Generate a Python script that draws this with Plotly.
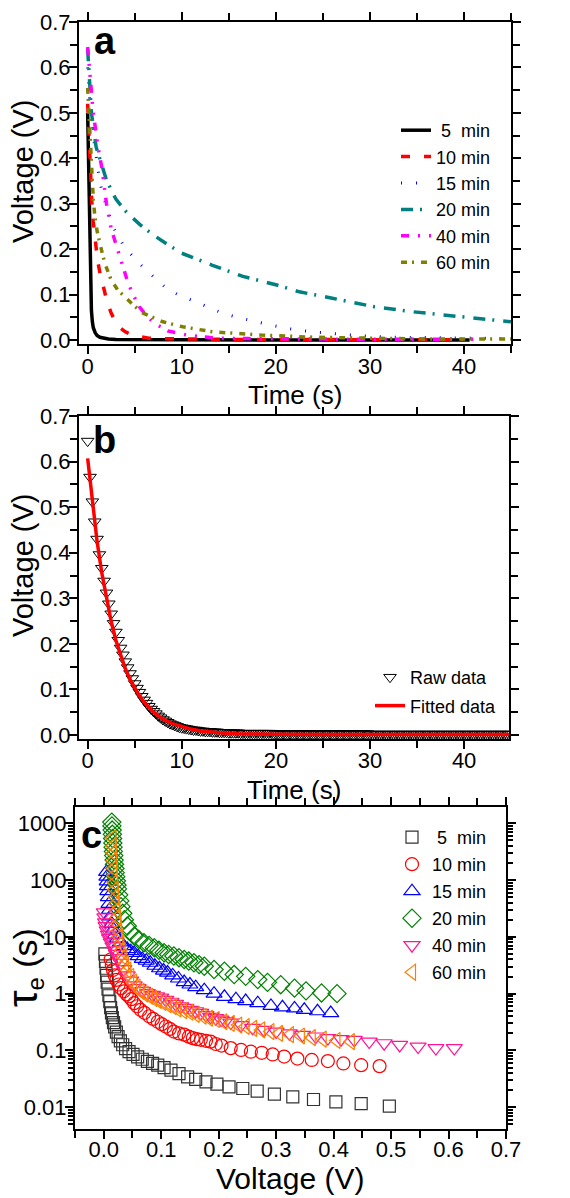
import plotly.graph_objects as go

W, H = 570, 1198
FONT = "Liberation Sans, Arial, sans-serif"

# ---------------- Panel a: voltage decay curves ----------------
t5 = [0, 0.05, 0.1, 0.15, 0.2, 0.25, 0.3, 0.4, 0.5, 0.6, 0.8, 1.0, 1.3, 1.7, 2.2, 3, 5, 10, 20, 30, 40.6]
v5 = [0.50, 0.43, 0.36, 0.29, 0.22, 0.16, 0.11, 0.065, 0.04, 0.027, 0.016, 0.01, 0.006, 0.004, 0.002, 0.001, 0.0005, 0.0003, 0.0002, 0.0001, 0.0001]

t10 = [0, 0.1, 0.2, 0.3, 0.45, 0.6, 0.8, 1.05, 1.3, 1.6, 2.0, 2.5, 3.0, 3.5, 4.0, 4.7, 5.5, 6.5, 8, 10, 13, 17, 22, 28, 34, 40]
v10 = [0.52, 0.46, 0.40, 0.35, 0.30, 0.26, 0.22, 0.176, 0.148, 0.121, 0.09, 0.059, 0.039, 0.026, 0.018, 0.011, 0.007, 0.004, 0.003, 0.002, 0.0015, 0.001, 0.001, 0.0008, 0.0006, 0.0005]

t15 = [0, 0.2, 0.55, 0.9, 1.3, 2.0, 2.8, 3.9, 5.3, 6.8, 8.2, 9.5, 11, 12.5, 14, 15.5, 17, 19, 21, 23, 25.4, 28, 30, 33, 36, 40, 45]
v15 = [0.60, 0.53, 0.456, 0.40, 0.346, 0.293, 0.245, 0.205, 0.172, 0.143, 0.117, 0.101, 0.088, 0.074, 0.062, 0.052, 0.044, 0.035, 0.026, 0.020, 0.015, 0.011, 0.008, 0.006, 0.005, 0.004, 0.003]

t20 = [0, 0.2, 0.4, 0.9, 2.0, 3.0, 4.1, 5.5, 7.0, 8.5, 10, 13.2, 16.5, 20.1, 22.5, 26, 30.5, 34.6, 38.2, 41.4, 45]
v20 = [0.64, 0.58, 0.50, 0.425, 0.352, 0.31, 0.282, 0.255, 0.231, 0.21, 0.191, 0.165, 0.14, 0.121, 0.106, 0.092, 0.073, 0.062, 0.055, 0.048, 0.040]

t40 = [0, 0.1, 0.3, 0.55, 0.8, 1.1, 1.5, 2.0, 2.5, 3.1, 3.7, 4.3, 4.9, 5.5, 6.3, 7.1, 8.5, 10.5, 12, 14, 17, 20, 25, 30, 35, 41]
v40 = [0.645, 0.62, 0.57, 0.51, 0.47, 0.425, 0.38, 0.30, 0.245, 0.205, 0.163, 0.125, 0.097, 0.073, 0.052, 0.037, 0.02, 0.011, 0.007, 0.004, 0.003, 0.002, 0.002, 0.0015, 0.0015, 0.0015]

t60 = [0, 0.1, 0.2, 0.3, 0.45, 0.6, 0.75, 1.0, 1.3, 1.8, 2.5, 3.2, 4.1, 5.0, 5.9, 7.0, 8.0, 10.1, 13.3, 18.4, 24, 30, 37, 45]
v60 = [0.555, 0.51, 0.46, 0.41, 0.36, 0.31, 0.275, 0.24, 0.213, 0.17, 0.132, 0.11, 0.092, 0.074, 0.059, 0.048, 0.04, 0.029, 0.018, 0.011, 0.006, 0.004, 0.002, 0.002]

names_a = ["\u00a05\u00a0\u00a0min", "10 min", "15 min", "20 min", "40 min", "60 min"]

# ---------------- Panel b: raw vs fitted ----------------
raw_t = [0.0, 0.25, 0.5, 0.75, 1.0, 1.25, 1.5, 1.75, 2.0, 2.25, 2.5, 2.75, 3.0, 3.25, 3.5, 3.75,
         4.0, 4.25, 4.5, 4.75, 5.0, 5.25, 5.5, 5.75, 6.0, 6.25, 6.5, 6.75, 7.0, 7.25, 7.5, 7.75,
         8.0, 8.25, 8.5, 8.75, 9.0, 9.25, 9.5, 9.75, 10.0, 10.25, 10.5, 10.75, 11.0, 11.25, 11.5, 11.75,
         12.0, 12.25, 12.5, 12.75, 13.0, 13.25, 13.5, 13.75, 14.0, 14.25, 14.5, 14.75, 15.0, 15.25, 15.5, 15.75,
         16.0, 16.25, 16.5, 16.75, 17.0, 17.25, 17.5, 17.75, 18.0, 18.25, 18.5, 18.75, 19.0, 19.25, 19.5, 19.75,
         20.0, 20.25, 20.5, 20.75, 21.0, 21.25, 21.5, 21.75, 22.0, 22.25, 22.5, 22.75, 23.0, 23.25, 23.5, 23.75,
         24.0, 24.25, 24.5, 24.75, 25.0, 25.25, 25.5, 25.75, 26.0, 26.25, 26.5, 26.75, 27.0, 27.25, 27.5, 27.75,
         28.0, 28.25, 28.5, 28.75, 29.0, 29.25, 29.5, 29.75, 30.0, 30.25, 30.5, 30.75, 31.0, 31.25, 31.5, 31.75,
         32.0, 32.25, 32.5, 32.75, 33.0, 33.25, 33.5, 33.75, 34.0, 34.25, 34.5, 34.75, 35.0, 35.25, 35.5, 35.75,
         36.0, 36.25, 36.5, 36.75, 37.0, 37.25, 37.5, 37.75, 38.0, 38.25, 38.5, 38.75, 39.0, 39.25, 39.5, 39.75,
         40.0, 40.25, 40.5, 40.75, 41.0, 41.25, 41.5, 41.75, 42.0, 42.25, 42.5, 42.75, 43.0, 43.25, 43.5, 43.75,
         44.0, 44.25, 44.5, 44.75, 45.0]
raw_v = [0.645, 0.566, 0.512, 0.468, 0.430, 0.396, 0.366, 0.338, 0.312, 0.288, 0.266, 0.245, 0.226, 0.208, 0.191, 0.176,
         0.161, 0.148, 0.135, 0.124, 0.113, 0.103, 0.094, 0.085, 0.077, 0.070, 0.063, 0.057, 0.052, 0.047, 0.042, 0.038,
         0.034, 0.031, 0.028, 0.025, 0.023, 0.021, 0.019, 0.017, 0.016, 0.015, 0.014, 0.013, 0.012, 0.011, 0.011, 0.010,
         0.009, 0.009, 0.008, 0.008, 0.008, 0.007, 0.007, 0.007, 0.006, 0.006, 0.006, 0.006, 0.005, 0.005, 0.005, 0.005,
         0.005, 0.004, 0.004, 0.004, 0.004, 0.004, 0.004, 0.004, 0.004, 0.004, 0.004, 0.004, 0.004, 0.004, 0.004, 0.003,
         0.003, 0.003, 0.003, 0.003, 0.003, 0.003, 0.003, 0.003, 0.003, 0.003, 0.003, 0.003, 0.003, 0.003, 0.003, 0.003,
         0.003, 0.003, 0.003, 0.003, 0.003, 0.003, 0.003, 0.003, 0.003, 0.003, 0.003, 0.003, 0.003, 0.003, 0.003, 0.003,
         0.003, 0.003, 0.003, 0.003, 0.003, 0.003, 0.003, 0.003, 0.002, 0.002, 0.002, 0.002, 0.002, 0.002, 0.002, 0.002,
         0.002, 0.002, 0.002, 0.002, 0.002, 0.002, 0.002, 0.002, 0.002, 0.002, 0.002, 0.002, 0.002, 0.002, 0.002, 0.002,
         0.002, 0.002, 0.002, 0.002, 0.002, 0.002, 0.002, 0.002, 0.002, 0.002, 0.002, 0.002, 0.002, 0.002, 0.002, 0.002,
         0.002, 0.002, 0.002, 0.002, 0.002, 0.002, 0.002, 0.002, 0.002, 0.002, 0.002, 0.002, 0.002, 0.002, 0.002, 0.002,
         0.002, 0.002, 0.002, 0.002, 0.002]
fit_t = [0, 0.5, 1, 1.5, 2, 2.5, 3, 3.5, 4, 4.5, 5, 5.5, 6, 6.5, 7, 7.5, 8, 9, 10, 11, 12, 13, 14, 16, 18, 20, 25, 30, 35, 40, 45]
fit_v = [0.607, 0.508, 0.425, 0.356, 0.297, 0.249, 0.208, 0.174, 0.146, 0.122, 0.102, 0.086, 0.072, 0.060, 0.050, 0.042, 0.035,
         0.025, 0.018, 0.013, 0.009, 0.007, 0.005, 0.003, 0.002, 0.0015, 0.001, 0.001, 0.001, 0.001, 0.001]

# ---------------- Panel c: electron lifetime ----------------
c5_v = [0.002, 0.003, 0.004, 0.005, 0.006, 0.0075, 0.009, 0.0105, 0.012, 0.0135, 0.015, 0.017, 0.019, 0.022, 0.025, 0.029,
        0.033, 0.038, 0.044, 0.051, 0.059, 0.067, 0.076, 0.085, 0.094, 0.105, 0.117, 0.131, 0.146, 0.160, 0.178, 0.197,
        0.218, 0.242, 0.267, 0.297, 0.329, 0.365, 0.404, 0.448, 0.497]
c5_tau = [5.0, 3.7, 2.8, 2.1, 1.6, 1.2, 0.92, 0.72, 0.57, 0.46, 0.38, 0.31, 0.26, 0.21, 0.175, 0.148,
          0.126, 0.108, 0.095, 0.085, 0.077, 0.07, 0.064, 0.059, 0.055, 0.050, 0.045, 0.039, 0.0344, 0.031, 0.028, 0.0255,
          0.0229, 0.0214, 0.0192, 0.017, 0.0152, 0.0137, 0.0124, 0.0116, 0.0105]

c10_v = [0.012, 0.014, 0.016, 0.019, 0.022, 0.026, 0.030, 0.035, 0.040, 0.044, 0.048, 0.053, 0.058, 0.064, 0.071, 0.079,
         0.086, 0.094, 0.101, 0.108, 0.115, 0.122, 0.131, 0.140, 0.148, 0.155, 0.162, 0.169, 0.178, 0.186, 0.195, 0.205,
         0.221, 0.239, 0.256, 0.275, 0.294, 0.314, 0.337, 0.362, 0.390, 0.417, 0.448, 0.480]
c10_tau = [4.0, 3.2, 2.6, 2.1, 1.75, 1.45, 1.25, 1.1, 0.97, 0.9, 0.8, 0.68, 0.6, 0.52, 0.46, 0.40,
           0.36, 0.32, 0.29, 0.264, 0.24, 0.215, 0.2, 0.19, 0.175, 0.165, 0.158, 0.154, 0.148, 0.143, 0.13, 0.122,
           0.11, 0.102, 0.095, 0.091, 0.085, 0.078, 0.072, 0.068, 0.065, 0.059, 0.055, 0.053]

c15_v = [0.005, 0.0055, 0.006, 0.0065, 0.007, 0.008, 0.009, 0.010, 0.012, 0.014, 0.017, 0.020, 0.024, 0.029, 0.035, 0.041,
         0.047, 0.053, 0.060, 0.067, 0.074, 0.081, 0.089, 0.097, 0.104, 0.111, 0.120, 0.130, 0.140, 0.150, 0.160, 0.175,
         0.192, 0.210, 0.230, 0.247, 0.268, 0.291, 0.311, 0.332, 0.349, 0.372, 0.395]
c15_tau = [140, 115, 95, 78, 64, 50, 38, 30, 23, 17, 13.5, 11, 9.3, 8.0, 6.9, 6.1,
           5.6, 5.2, 4.6, 4.1, 3.8, 3.5, 3.1, 2.8, 2.55, 2.35, 2.1, 1.85, 1.6, 1.45, 1.3, 1.15,
           1.0, 0.88, 0.8, 0.74, 0.68, 0.61, 0.575, 0.55, 0.52, 0.49, 0.455]

c20_v = [0.014, 0.0143, 0.0146, 0.015, 0.0154, 0.0158, 0.0163, 0.0168, 0.0174, 0.018, 0.0187, 0.0195, 0.020, 0.021, 0.022, 0.023,
         0.024, 0.026, 0.028, 0.030, 0.033, 0.036, 0.041, 0.046, 0.053, 0.061, 0.070, 0.079, 0.088, 0.096, 0.105, 0.113,
         0.122, 0.131, 0.140, 0.148, 0.157, 0.166, 0.175, 0.192, 0.210, 0.227, 0.247, 0.268, 0.285, 0.308, 0.332, 0.352,
         0.379, 0.406]
c20_tau = [1050, 900, 760, 640, 540, 450, 380, 320, 270, 225, 190, 160, 135, 115, 97, 82,
           70, 55, 43, 34, 26, 20, 15.5, 12.5, 10.3, 9.0, 7.9, 7.1, 6.45, 5.8, 5.25, 4.9,
           4.6, 4.3, 4.0, 3.75, 3.5, 3.25, 3.04, 2.66, 2.48, 2.17, 2.02, 1.77, 1.58, 1.44, 1.25, 1.12,
           1.03, 1.0]

c40_v = [0.001, 0.002, 0.003, 0.004, 0.006, 0.008, 0.010, 0.013, 0.016, 0.019, 0.022, 0.026, 0.030, 0.035, 0.041, 0.047,
         0.053, 0.060, 0.068, 0.076, 0.085, 0.092, 0.099, 0.108, 0.117, 0.125, 0.134, 0.143, 0.152, 0.160, 0.169, 0.178,
         0.186, 0.195, 0.204, 0.212, 0.221, 0.239, 0.259, 0.279, 0.300, 0.323, 0.346, 0.369, 0.390, 0.413, 0.436, 0.462,
         0.488, 0.515, 0.547, 0.578, 0.610]
c40_tau = [27, 22, 18, 15.5, 13, 11, 9.5, 8, 6.8, 5.8, 5.0, 4.2, 3.5, 2.7, 2.1, 1.7,
           1.4, 1.25, 1.12, 1.02, 0.95, 0.9, 0.85, 0.78, 0.72, 0.66, 0.6, 0.56, 0.52, 0.49, 0.46, 0.42,
           0.39, 0.37, 0.35, 0.33, 0.31, 0.28, 0.25, 0.23, 0.215, 0.2, 0.188, 0.176, 0.165, 0.158, 0.154, 0.143,
           0.134, 0.125, 0.117, 0.11, 0.11]

c60_v = [0.015, 0.0155, 0.016, 0.0165, 0.017, 0.0175, 0.018, 0.019, 0.020, 0.021, 0.022, 0.023, 0.024, 0.025, 0.027, 0.029,
         0.031, 0.034, 0.037, 0.041, 0.046, 0.051, 0.057, 0.064, 0.071, 0.079, 0.086, 0.094, 0.102, 0.111, 0.120, 0.128,
         0.138, 0.149, 0.160, 0.172, 0.183, 0.195, 0.208, 0.221, 0.234, 0.247, 0.260, 0.274, 0.290, 0.305, 0.324, 0.343,
         0.362, 0.381, 0.405, 0.430]
c60_tau = [550, 400, 300, 220, 160, 120, 90, 68, 50, 38, 29, 22, 17, 13, 10, 7.6,
           5.8, 4.4, 3.4, 2.6, 2.0, 1.6, 1.3, 1.1, 0.98, 0.9, 0.82, 0.76, 0.7, 0.64, 0.59, 0.54,
           0.5, 0.47, 0.43, 0.4, 0.37, 0.35, 0.32, 0.3, 0.28, 0.264, 0.245, 0.23, 0.215, 0.2, 0.19, 0.18,
           0.168, 0.158, 0.15, 0.143]

names_c = ["\u00a05\u00a0\u00a0min", "10 min", "15 min", "20 min", "40 min", "60 min"]
y_tickvals_c = [0.01, 0.1, 1, 10, 100, 1000]
y_ticktext_c = ["0.01", "0.1", "1", "10", "100", "1000"]

fig = go.Figure()

# panel a traces
a_series = [(t5, v5, "#000000", "solid", 3.5),
            (t10, v10, "#FF0000", "9px,14px", 3.5),
            (t15, v15, "#0000FF", "1px,14px", 3),
            (t20, v20, "#008080", "12px,7px,2px,9px", 3.5),
            (t40, v40, "#FF00FF", "8px,9px,2px,9px,2px,8px", 3.5),
            (t60, v60, "#808000", "6px,5px,2px,7px", 3.5)]
for i, (tt, vv, col, dash, w) in enumerate(a_series):
    fig.add_trace(go.Scatter(x=tt, y=vv, mode="lines", name=names_a[i],
                             line=dict(color=col, dash=dash, width=w),
                             xaxis="x", yaxis="y", legend="legend", legendgroup="a%d" % i))

# panel b traces
fig.add_trace(go.Scatter(x=raw_t, y=raw_v, mode="markers", name="Raw data",
                         marker=dict(symbol="triangle-down-open", size=11, color="#000000", line=dict(width=1)),
                         xaxis="x2", yaxis="y2", legend="legend2", legendgroup="b0"))
fig.add_trace(go.Scatter(x=fit_t, y=fit_v, mode="lines", name="Fitted data",
                         line=dict(color="#FF0000", width=3.5),
                         xaxis="x2", yaxis="y2", legend="legend2", legendgroup="b1"))

# panel c traces
c_series = [(c5_v, c5_tau, "#333333", "square-open", 12),
            (c10_v, c10_tau, "#FF0000", "circle-open", 13),
            (c15_v, c15_tau, "#0000FF", "triangle-up-open", 14),
            (c20_v, c20_tau, "#008000", "diamond-open", 14),
            (c40_v, c40_tau, "#FF1493", "triangle-down-open", 14),
            (c60_v, c60_tau, "#FF8000", "triangle-left-open", 14)]
for i, (vv, tt, col, sym, sz) in enumerate(c_series):
    fig.add_trace(go.Scatter(x=vv, y=tt, mode="markers", name=names_c[i],
                             marker=dict(symbol=sym, size=sz, color=col, line=dict(width=1.2, color=col)),
                             xaxis="x3", yaxis="y3", legend="legend3", legendgroup="c%d" % i))

def px_x(p):
    return p / W

def px_y(p):
    return 1 - p / H

tickfont = dict(family=FONT, size=22, color="black")
common = dict(showline=True, linecolor="black", linewidth=2, mirror="ticks", ticks="outside",
              tickcolor="black", tickwidth=2, ticklen=8, showgrid=False, zeroline=False,
              tickfont=tickfont, automargin=False)
minor_lin = dict(ticks="outside", ticklen=7, tickwidth=2, tickcolor="black", showgrid=False)

fig.update_layout(
    width=W, height=H, margin=dict(l=0, r=0, t=0, b=0, autoexpand=False),
    paper_bgcolor="white", plot_bgcolor="white",
    font=dict(family=FONT, color="black"),
    xaxis=dict(domain=[px_x(79), px_x(511)], anchor="y", range=[-0.92, 45], dtick=10, tick0=0,
               minor=dict(dtick=5, **minor_lin), ticklabelstandoff=-7, **common),
    yaxis=dict(domain=[px_y(344.3), px_y(22)], anchor="x", range=[-0.0095, 0.7], dtick=0.1, tick0=0,
               tickformat=".1f", minor=dict(dtick=0.05, **minor_lin), ticklabelstandoff=-6, **common),
    xaxis2=dict(domain=[px_x(79), px_x(509.3)], anchor="y2", range=[-0.92, 44.8], dtick=10, tick0=0,
                minor=dict(dtick=5, **minor_lin), ticklabelstandoff=-8, **common),
    yaxis2=dict(domain=[px_y(739.3), px_y(416)], anchor="x2", range=[-0.0094, 0.7], dtick=0.1, tick0=0,
                tickformat=".1f", minor=dict(dtick=0.05, **minor_lin), ticklabelstandoff=-6, **common),
    xaxis3=dict(domain=[px_x(75), px_x(506)], anchor="y3", range=[-0.05, 0.7], dtick=0.1, tick0=0,
                tickformat=".1f", minor=dict(dtick=0.05, **minor_lin), ticklabelstandoff=-8, **common),
    yaxis3=dict(domain=[px_y(1129), px_y(807)], anchor="x3", type="log", range=[-2.383, 3.287],
                tickvals=y_tickvals_c, ticktext=y_ticktext_c,
                minor=dict(ticks="outside", ticklen=5, tickwidth=1.5, tickcolor="black", dtick="D1", showgrid=False),
                ticklabelstandoff=-6, **common),
    legend=dict(x=px_x(396), y=px_y(112), xanchor="left", yanchor="top", bgcolor="rgba(0,0,0,0)",
                font=dict(family=FONT, size=18), tracegroupgap=0),
    legend2=dict(x=px_x(370), y=px_y(659), xanchor="left", yanchor="top", bgcolor="rgba(0,0,0,0)",
                 font=dict(family=FONT, size=18), tracegroupgap=2),
    legend3=dict(x=px_x(392), y=px_y(819), xanchor="left", yanchor="top", bgcolor="rgba(0,0,0,0)",
                 font=dict(family=FONT, size=18), tracegroupgap=0.6),
    showlegend=True,
)

annots = [
    dict(text="<b>a</b>", x=px_x(105), y=px_y(41), font=dict(family=FONT, size=38)),
    dict(text="<b>b</b>", x=px_x(104), y=px_y(440), font=dict(family=FONT, size=38)),
    dict(text="<b>c</b>", x=px_x(91), y=px_y(835), font=dict(family=FONT, size=38)),
    # axis titles
    dict(text="Voltage (V)", x=px_x(23), y=px_y(172), textangle=-90, font=dict(family=FONT, size=29)),
    dict(text="Time (s)", x=px_x(295), y=px_y(395), font=dict(family=FONT, size=26)),
    dict(text="Voltage (V)", x=px_x(23), y=px_y(566), textangle=-90, font=dict(family=FONT, size=29)),
    dict(text="Time (s)", x=px_x(294), y=px_y(790), font=dict(family=FONT, size=26)),
    dict(text="Voltage (V)", x=px_x(290), y=px_y(1178), font=dict(family=FONT, size=30)),
    dict(text="<span style='font-size:42px'>\u03c4</span><sub>e</sub> (s)", x=px_x(24), y=px_y(968),
         textangle=-90, font=dict(family=FONT, size=34)),
]
for a in annots:
    a.update(xref="paper", yref="paper", showarrow=False, xanchor="center", yanchor="middle")
fig.update_layout(annotations=annots)

fig.write_html("out.html", config={"displayModeBar": False},
               post_script="document.body.style.margin='0px';document.body.style.overflow='hidden';")
